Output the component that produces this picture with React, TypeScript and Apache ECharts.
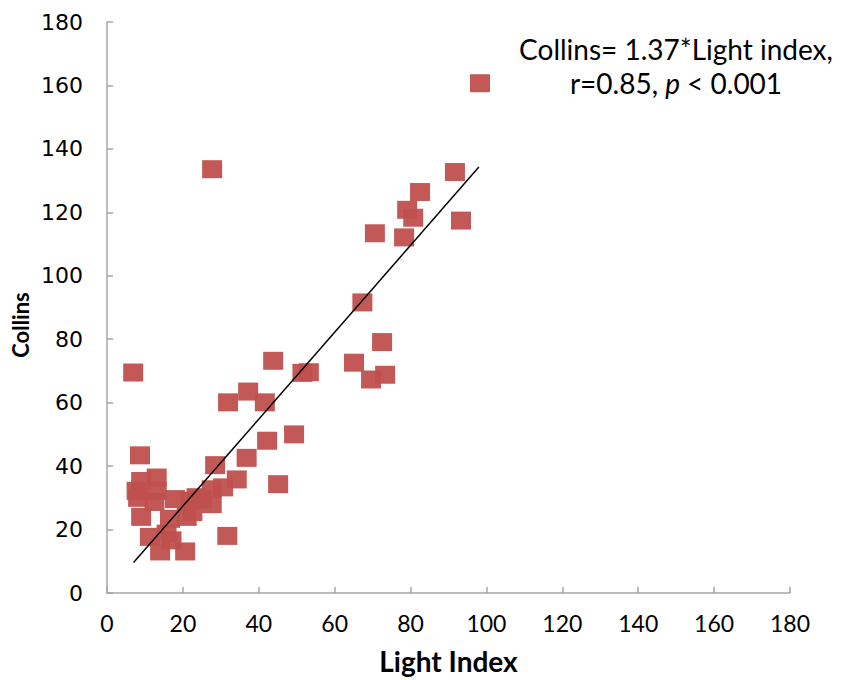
import React, { useEffect, useRef } from "react";
import * as echarts from "echarts";

const lightIndex = [
  98.3, 27.7, 91.7, 82.5, 79.1, 80.7, 93.3, 70.6, 78.3, 67.3,
  72.5, 65.1, 69.6, 73.3, 43.8, 51.5, 53.2, 6.9, 37.2, 31.9,
  41.6, 42.2, 49.3, 8.7, 28.5, 36.8, 45.1, 34.2, 31.7, 20.6,
  14.0, 13.1, 9.0, 7.8, 8.2, 13.1, 12.5, 17.9, 21.9, 9.0,
  16.6, 21.0, 11.3, 15.7, 17.0, 23.6, 27.6, 30.6, 27.6, 25.0, 22.5,
];
const collins = [
  160.7, 133.6, 132.7, 126.4, 120.8, 118.3, 117.4, 113.4, 112.1, 91.6,
  79.1, 72.6, 67.3, 68.8, 73.2, 69.4, 69.6, 69.5, 63.5, 60.1,
  60.1, 48.0, 50.0, 43.4, 40.3, 42.6, 34.3, 35.8, 18.0, 13.1,
  13.1, 36.4, 35.3, 32.2, 30.0, 32.2, 28.7, 29.6, 29.1, 24.0,
  23.4, 24.0, 17.7, 18.7, 16.6, 30.2, 32.7, 33.3, 28.0, 29.5, 25.5,
];
const slope = 1.37;
const fitRange = [7, 98];
const axisTicks = [0, 20, 40, 60, 80, 100, 120, 140, 160, 180];

export default function App() {
  const ref = useRef<HTMLDivElement>(null);
  useEffect(() => {
    document.body.style.margin = "0";
    if (!ref.current) return;
    const chart = echarts.init(ref.current, null, { renderer: "svg" });
    const axisColor = "#a6a6a6";
    chart.setOption({
      animation: false,
      backgroundColor: "#ffffff",
      grid: { left: 107, right: 52, top: 22, bottom: 80, containLabel: false },
      xAxis: {
        type: "value",
        min: axisTicks[0],
        max: axisTicks[axisTicks.length - 1],
        interval: 20,
        name: "Light Index",
        nameLocation: "middle",
        nameGap: 54,
        nameTextStyle: { fontFamily: "Lato", fontWeight: "bold", fontSize: 28, color: "#000" },
        axisLine: { show: true, lineStyle: { color: axisColor, width: 1.5 } },
        axisTick: { show: true, inside: true, length: 6, lineStyle: { color: axisColor, width: 1.5 } },
        axisLabel: { fontFamily: "Lato", fontSize: 23, color: "#000", margin: 18 },
        splitLine: { show: false },
      },
      yAxis: {
        type: "value",
        min: axisTicks[0],
        max: axisTicks[axisTicks.length - 1],
        interval: 20,
        axisLine: { show: true, lineStyle: { color: axisColor, width: 1.5 } },
        axisTick: { show: true, inside: true, length: 6, lineStyle: { color: axisColor, width: 1.5 } },
        axisLabel: { fontFamily: "DejaVu Sans", fontSize: 22, color: "#000", margin: 24 },
        splitLine: { show: false },
      },
      graphic: [
        {
          type: "text",
          x: 20,
          y: 325,
          rotation: Math.PI / 2,
          style: {
            text: "Collins",
            font: "bold 22px Lato",
            fill: "#000",
            textAlign: "center",
            textVerticalAlign: "middle",
          },
        },
        {
          type: "text",
          x: 676,
          y: 32,
          style: {
            text: "Collins= 1.37*Light index,\n{n|r=0.85, }{i|p}{n| < 0.001}",
            font: "28px Lato",
            fill: "#000",
            textAlign: "center",
            lineHeight: 34,
            rich: {
              n: { fontFamily: "Lato", fontSize: 28, fill: "#000", lineHeight: 34 },
              i: { fontFamily: "Lato", fontSize: 28, fontStyle: "italic", fill: "#000", lineHeight: 34 },
            },
          },
        },
      ],
      series: [
        {
          type: "scatter",
          symbol: "rect",
          symbolSize: [20, 18],
          data: lightIndex.map((x, i) => [x, collins[i]]),
          itemStyle: { color: "#c0504d", opacity: 0.95 },
          z: 2,
        },
        {
          type: "line",
          data: fitRange.map((x) => [x, slope * x]),
          symbol: "none",
          lineStyle: { color: "#000", width: 1.5 },
          z: 3,
        },
      ],
    });
    return () => chart.dispose();
  }, []);
  return <div ref={ref} style={{ width: 842, height: 680 }} />;
}
